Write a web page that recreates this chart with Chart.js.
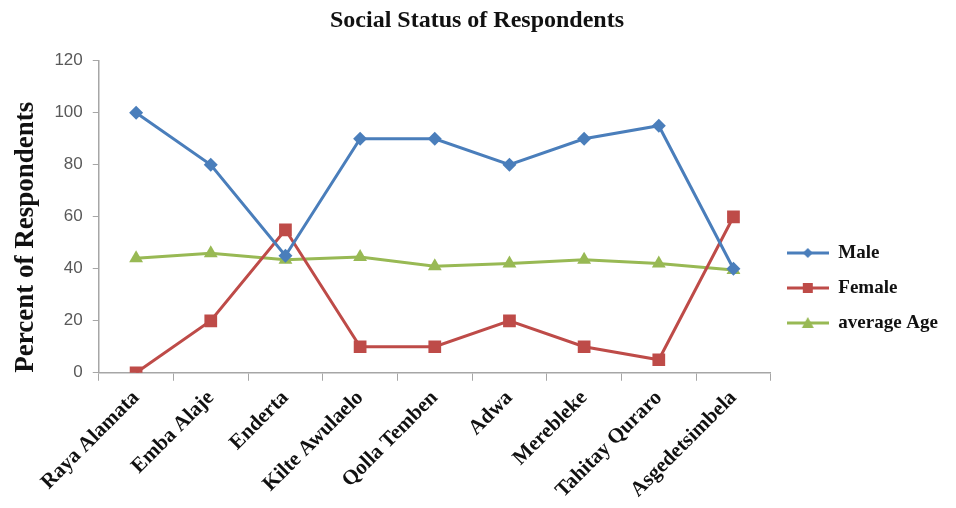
<!DOCTYPE html>
<html>
<head>
<meta charset="utf-8">
<script src="https://cdn.jsdelivr.net/npm/chart.js@4"></script>
<style>
  html, body { margin: 0; padding: 0; background: #fff; }
  #wrap { width: 956px; height: 508px; }
</style>
</head>
<body>
<div id="wrap"><canvas id="chart"></canvas></div>
<script>
// Districts and values (percent)
const districts = ["Raya Alamata", "Emba Alaje", "Enderta", "Kilte Awulaelo", "Qolla Temben",
  "Adwa", "Merebleke", "Tahitay Quraro", "Asgedetsimbela"];
const male = [100, 80, 45, 90, 90, 80, 90, 95, 40];
const female = [0, 20, 55, 10, 10, 20, 10, 5, 60];
const averageAge = [44, 46, 43.5, 44.5, 41, 42, 43.5, 42, 39.5];

const serif = "'Liberation Serif', 'Times New Roman', serif";

// Legend swatches: short line with the marker in the middle
function swatch(color, style) {
  const c = document.createElement("canvas");
  c.width = 42; c.height = 14;
  const g = c.getContext("2d");
  g.strokeStyle = color; g.fillStyle = color; g.lineWidth = 3;
  g.beginPath(); g.moveTo(0, 7); g.lineTo(42, 7); g.stroke();
  g.beginPath();
  if (style === "diamond") {
    g.moveTo(21, 2); g.lineTo(26, 7); g.lineTo(21, 12); g.lineTo(16, 7);
  } else if (style === "square") {
    g.rect(16, 2, 10, 10);
  } else {
    g.moveTo(21, 1); g.lineTo(27, 12); g.lineTo(15, 12);
  }
  g.closePath(); g.fill();
  return c;
}

const series = [
  { label: "Male", data: male, color: "#4a7ebb", point: "rectRot", radius: 7, sw: "diamond" },
  { label: "Female", data: female, color: "#be4b48", point: "rect", radius: 9, sw: "square" },
  { label: "average Age", data: averageAge, color: "#98b954", point: "triangle", radius: 8, sw: "triangle" }
];

new Chart(document.getElementById("chart"), {
  type: "line",
  data: {
    labels: districts,
    datasets: series.map(s => ({
      label: s.label,
      data: s.data,
      borderColor: s.color,
      backgroundColor: s.color,
      borderWidth: 3,
      pointStyle: s.point,
      pointRadius: s.radius,
      pointHoverRadius: s.radius,
      pointBorderWidth: 0,
      tension: 0,
      fill: false,
      legendImage: swatch(s.color, s.sw)
    }))
  },
  options: {
    responsive: true,
    maintainAspectRatio: false,
    animation: false,
    layout: { padding: { left: 6, right: 8, top: 4, bottom: 0 } },
    plugins: {
      title: {
        display: true,
        text: "Social Status of Respondents",
        color: "#111",
        font: { family: serif, size: 24, weight: "bold" },
        padding: { top: 2, bottom: 26 }
      },
      legend: {
        position: "right",
        title: { display: true, text: " ", font: { size: 10 }, padding: { top: 26, bottom: 26 } },
        labels: {
          usePointStyle: true,
          pointStyleWidth: 42,
          padding: 16,
          color: "#111",
          font: { family: serif, size: 19, weight: "bold" },
          generateLabels(chart) {
            return chart.data.datasets.map((ds, i) => ({
              text: ds.label,
              pointStyle: ds.legendImage,
              fillStyle: ds.borderColor,
              strokeStyle: ds.borderColor,
              fontColor: "#111",
              lineWidth: 0,
              hidden: false,
              datasetIndex: i
            }));
          }
        }
      },
      tooltip: { enabled: false }
    },
    scales: {
      x: {
        offset: true,
        grid: { offset: true, drawOnChartArea: false, tickLength: 8, color: "#a6a6a6" },
        border: { color: "#a6a6a6", width: 1.5 },
        ticks: {
          minRotation: 45,
          maxRotation: 45,
          color: "#111",
          padding: 5,
          font: { family: serif, size: 21, weight: "bold" }
        }
      },
      y: {
        min: 0,
        max: 120,
        grid: { drawOnChartArea: false, tickLength: 6, color: "#a6a6a6" },
        border: { color: "#a6a6a6", width: 1.5 },
        ticks: {
          stepSize: 20,
          color: "#595959",
          padding: 10,
          font: { family: "'Liberation Sans', Arial, sans-serif", size: 17 }
        },
        title: {
          display: true,
          align: "start",
          text: "Percent of Respondents",
          color: "#111",
          font: { family: serif, size: 27, weight: "bold" },
          padding: { bottom: 2 }
        }
      }
    }
  }
});
</script>
</body>
</html>
